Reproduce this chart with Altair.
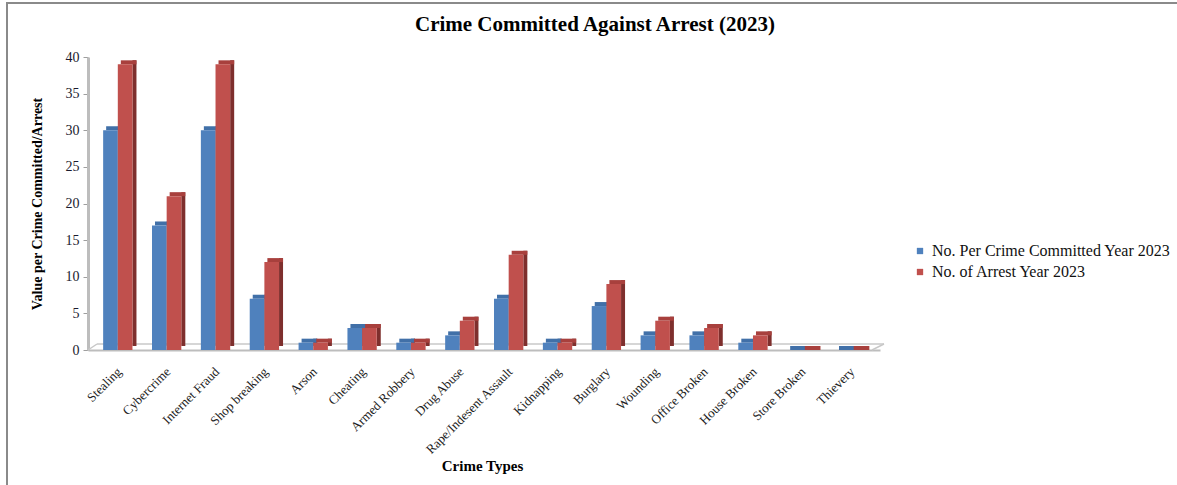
import json
import altair as alt
import pandas as pd

# Crime categories and the two yearly series
crimes = [
    "Stealing", "Cybercrime", "Internet Fraud", "Shop breaking", "Arson",
    "Cheating", "Armed Robbery", "Drug Abuse", "Rape/Indesent  Assault",
    "Kidnapping", "Burglary", "Wounding", "Office Broken", "House Broken",
    "Store Broken", "Thievery",
]
committed = [30, 17, 30, 7, 1, 3, 1, 2, 7, 1, 6, 2, 2, 1, 0, 0]
arrests = [39, 21, 39, 12, 1, 3, 1, 4, 13, 1, 9, 4, 3, 2, 0, 0]

series_names = ["No. Per Crime Committed  Year 2023", "No. of Arrest Year 2023"]
front_colors = ["#4F81BD", "#C0504D"]
side_colors = ["#2E5585", "#7E2F2D"]
top_colors = ["#4170A8", "#A8403D"]

chart_title = "Crime Committed  Against  Arrest  (2023)"

rows = []
for i, name in enumerate(crimes):
    for s, vals in enumerate([committed, arrests]):
        rows.append({"crime": name, "idx": i, "s": s,
                     "series": series_names[s], "value": vals[i]})
df = pd.DataFrame(rows)

BAR = 0.3  # bar width in category units
W, H = 792, 293
xdom = [-0.61, 15.6]

base = alt.Chart(df).transform_calculate(
    x0=f"datum.idx - {BAR} + datum.s * {BAR}",
    x1=f"datum.idx + datum.s * {BAR}",
)

label_expr = json.dumps(crimes) + "[datum.value]"

x_axis = alt.Axis(
    values=list(range(len(crimes))), labelExpr=label_expr,
    labelAngle=315, labelAlign="right", labelBaseline="top",
    labelFont="Liberation Serif", labelFontSize=13, labelColor="#222",
    labelPadding=15, labelOffset=-3, ticks=False, domainColor="#bdbdbd",
    domainWidth=2, grid=False, title="Crime Types",
    titleFont="Liberation Serif", titleFontSize=15, titleFontWeight="bold",
    titleColor="#000", titleY=108, titleBaseline="top", titleX=W / 2 - 2,
    labelOverlap=False,
)
y_axis = alt.Axis(
    values=[0, 5, 10, 15, 20, 25, 30, 35, 40], grid=False, labelOverlap=False,
    labelFont="Liberation Serif", labelFontSize=14, labelColor="#1a1a2e",
    tickColor="#9e9e9e", tickSize=5, domainColor="#bdbdbd", domainWidth=3,
    labelPadding=4, title="Value per Crime  Committed/Arrest",
    titleFont="Liberation Serif", titleFontSize=14, titleFontWeight="bold",
    titleColor="#000", titleX=-44,
)

xs = alt.Scale(domain=xdom, nice=False, zero=False)
ys = alt.Scale(domain=[0, 40], nice=False)

# right-hand depth face of each bar
side = base.mark_bar(x2Offset=4, yOffset=-4, y2Offset=-4).encode(
    x=alt.X("x1:Q", scale=xs, axis=x_axis),
    x2="x1:Q",
    y=alt.Y("value:Q", scale=ys, axis=y_axis),
    y2=alt.datum(0),
    color=alt.Color("series:N", scale=alt.Scale(domain=series_names, range=side_colors), legend=None),
)

# top depth face of each bar
top = base.mark_bar(xOffset=3, x2Offset=4, yOffset=-4).encode(
    x=alt.X("x0:Q", scale=xs, axis=x_axis),
    x2="x1:Q",
    y=alt.Y("value:Q", scale=ys, axis=y_axis),
    y2="value:Q",
    color=alt.Color("series:N", scale=alt.Scale(domain=series_names, range=top_colors), legend=None),
)

front = base.mark_bar().encode(
    x=alt.X("x0:Q", scale=xs, axis=x_axis),
    x2="x1:Q",
    y=alt.Y("value:Q", scale=ys, axis=y_axis),
    y2=alt.datum(0),
    color=alt.Color(
        "series:N",
        scale=alt.Scale(domain=series_names, range=front_colors),
        legend=alt.Legend(
            title=None, orient="none", legendX=824, legendY=186,
            symbolType="square", symbolSize=40, symbolStrokeWidth=0,
            labelFont="Liberation Serif", labelFontSize=16, labelColor="#111",
            labelLimit=400, rowPadding=5, symbolOffset=0,
        ),
    ),
)

one = pd.DataFrame({"a": [0]})
floor_style = dict(color="#c8c8c8", strokeWidth=1.5)

# floor of the plot: back edge and slanted ends
floor_back = alt.Chart(one).mark_rule(**floor_style).encode(
    x=alt.value(9), x2=alt.value(W + 4), y=alt.value(H - 6))
floor_left = alt.Chart(one).mark_rule(**floor_style).encode(
    x=alt.value(0), x2=alt.value(9), y=alt.value(H), y2=alt.value(H - 6))
floor_right = alt.Chart(one).mark_rule(**floor_style).encode(
    x=alt.value(W - 8), x2=alt.value(W + 4), y=alt.value(H), y2=alt.value(H - 6))

# outer frame lines
frame_left = alt.Chart(one).mark_rule(color="#8a8a8a", strokeWidth=2).encode(
    x=alt.value(-81), y=alt.value(-54), y2=alt.value(440))
frame_top = alt.Chart(one).mark_rule(color="#8a8a8a", strokeWidth=2).encode(
    x=alt.value(-82), x2=alt.value(1100), y=alt.value(-54))

# chart heading, centred over the whole figure
heading = alt.Chart(one).mark_text(
    text=chart_title, font="Liberation Serif", fontSize=21, fontWeight="bold",
    color="#000", align="center", baseline="middle",
).encode(x=alt.value(507), y=alt.value(-32))

chart = alt.layer(
    floor_back, floor_left, floor_right, side, top, front,
    frame_left, frame_top, heading,
).resolve_scale(color="independent").properties(
    width=W, height=H,
    padding={"left": 88, "top": 57, "right": 297, "bottom": 135},
    autosize=alt.AutoSizeParams(type="none"),
    background="white",
).configure_view(stroke=None)

chart.save("out.html", embed_options={"renderer": "svg", "actions": False})
